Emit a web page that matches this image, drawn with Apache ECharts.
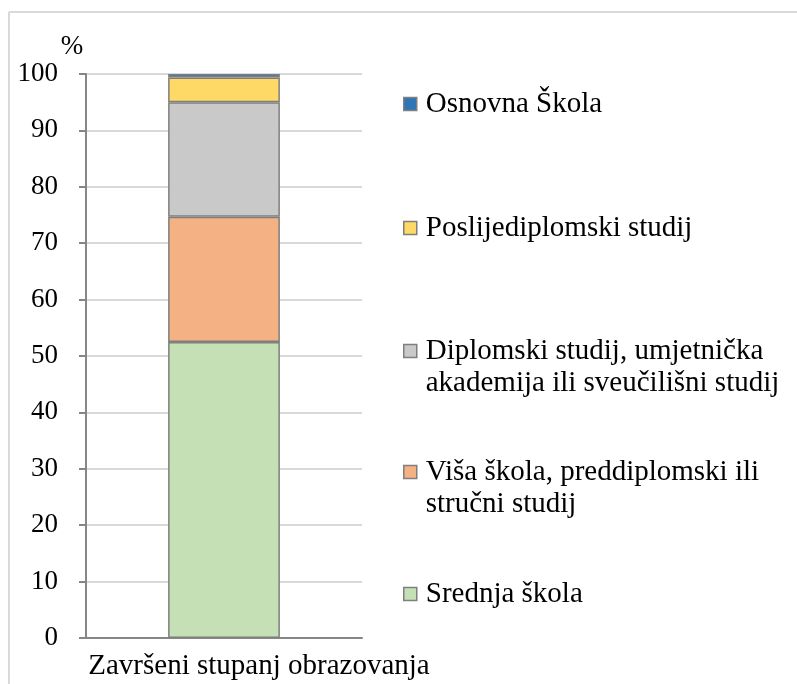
<!DOCTYPE html>
<html>
<head>
<meta charset="utf-8">
<script src="https://cdn.jsdelivr.net/npm/echarts@6/dist/echarts.min.js"></script>
<style>
html,body{margin:0;padding:0;background:#fff;}
#chart{width:797px;height:684px;}
</style>
</head>
<body>
<div id="chart"></div>
<script>
const categories = ['Završeni stupanj obrazovanja'];
const seriesNames = [
  'Srednja škola',
  'Viša škola, preddiplomski ili\nstručni studij',
  'Diplomski studij, umjetnička\nakademija ili sveučilišni studij',
  'Poslijediplomski studij',
  'Osnovna Škola'
];
const srednja = [52.5];
const visa = [22.2];
const diplomski = [20.3];
const poslijediplomski = [4.4];
const osnovna = [0.6];
const seriesValues = [srednja, visa, diplomski, poslijediplomski, osnovna];
const colors = ['#c5e0b4', '#f4b183', '#c9c9c9', '#ffd966', '#2e75b6'];
const yTicks = { min: 0, max: 100, interval: 10 };

const FONT = "'Liberation Serif', 'Times New Roman', serif";

// legend layout: [series index, y of first-line centre, number of lines]
const legendLayout = [[4, 104, 1], [3, 228, 1], [2, 351, 2], [1, 472, 2], [0, 594, 1]];
const LH = 32;

const legends = legendLayout.map(([idx, cy, lines]) => {
  const extra = lines - 1;
  return {
    show: true,
    orient: 'vertical',
    left: 403,
    top: cy - LH / 2 - extra * LH,
    padding: 0,
    selectedMode: false,
    itemWidth: 13,
    itemHeight: 13,
    icon: 'rect',
    itemStyle: { borderColor: '#7f7f7f', borderWidth: 1.5 },
    textStyle: {
      fontFamily: FONT, fontSize: 29, color: '#000', lineHeight: LH,
      padding: [0, 0, 0, 4]
    },
    formatter: (name) => (extra ? '\n'.repeat(extra) : '') + name,
    data: [seriesNames[idx]]
  };
});

const chart = echarts.init(document.getElementById('chart'), null, { renderer: 'canvas' });
chart.setOption({
  backgroundColor: '#fff',
  animation: false,
  legend: legends,
  grid: { left: 86, right: 435, top: 74, bottom: 46, containLabel: false },
  xAxis: {
    type: 'category',
    data: categories,
    axisLine: { show: true, lineStyle: { color: '#868686', width: 2 } },
    axisTick: { show: false },
    axisLabel: {
      fontFamily: FONT, fontSize: 29, color: '#000', margin: 14,
      padding: [0, 0, 0, 70]
    }
  },
  yAxis: {
    type: 'value',
    min: yTicks.min, max: yTicks.max, interval: yTicks.interval,
    name: '%',
    nameLocation: 'end',
    nameGap: 13,
    nameTextStyle: { fontFamily: FONT, fontSize: 27, color: '#000', padding: [0, 28, 0, 0] },
    axisLine: { show: true, lineStyle: { color: '#868686', width: 2 } },
    axisTick: { show: true, inside: false, length: 7, lineStyle: { color: '#868686', width: 2 } },
    axisLabel: { fontFamily: FONT, fontSize: 27, color: '#000', margin: 28 },
    splitLine: { show: true, lineStyle: { color: '#d9d9d9', width: 2 } }
  },
  series: seriesNames.map((name, i) => ({
    name: name,
    type: 'bar',
    stack: 'total',
    barWidth: '40.5%',
    data: seriesValues[i],
    itemStyle: { color: colors[i], borderColor: '#7f7f7f', borderWidth: 1.5 }
  })),
  graphic: [
    { type: 'line', shape: { x1: 9, y1: 12, x2: 797, y2: 12 }, style: { stroke: '#d9d9d9', lineWidth: 2 } },
    { type: 'line', shape: { x1: 9, y1: 12, x2: 9, y2: 684 }, style: { stroke: '#d9d9d9', lineWidth: 2 } }
  ]
});
</script>
</body>
</html>
